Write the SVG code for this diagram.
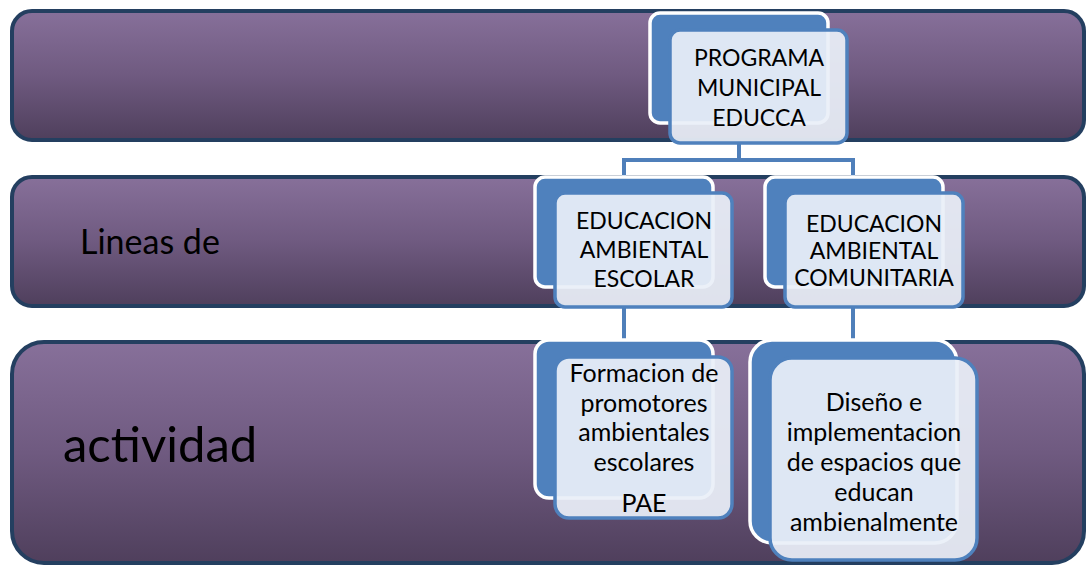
<svg xmlns="http://www.w3.org/2000/svg" width="1086" height="566" viewBox="0 0 1086 566">
<defs>
<linearGradient id="bandGrad" x1="0" y1="0" x2="0" y2="1">
<stop offset="0" stop-color="#87709a"/>
<stop offset="0.5" stop-color="#6f5a80"/>
<stop offset="1" stop-color="#4f3f5c"/>
</linearGradient>
</defs>
<style>
.band{fill:url(#bandGrad);stroke:#243f60;stroke-width:4}
.back{fill:#4f81bd;stroke:#ffffff;stroke-width:3.5}
.front{fill:#eaeff7;fill-opacity:0.93;stroke:#4f81bd;stroke-width:3.5}
.conn{fill:none;stroke:#4f7fba;stroke-width:4}
.t{font-family:Lato,"Liberation Sans",sans-serif;font-size:23px;fill:#000;text-anchor:middle}
.lc{font-size:25px}
.lbl{font-family:Lato,"Liberation Sans",sans-serif;fill:#000}
</style>
<g id="bands">
<rect class="band" x="12" y="11" width="1072" height="129" rx="20"/>
<rect class="band" x="12" y="177" width="1072" height="129" rx="20"/>
<rect class="band" x="12" y="342" width="1072" height="221" rx="32"/>
<text class="lbl" x="80" y="254" font-size="34">Lineas de</text>
<text class="lbl" x="63" y="462" font-size="49">actividad</text>
</g>
<g id="connectors">
<path class="conn" d="M739,143 V160 M624,160 H853 M624,158 V177 M853,158 V177"/>
<path class="conn" d="M624,307 V342"/>
<path class="conn" d="M853,307 V342"/>
</g>
<g id="node-programa">
<rect class="back" x="650" y="13" width="178" height="110" rx="10"/>
<rect class="front" x="670" y="30" width="177" height="113" rx="10"/>
<text class="t" x="759" y="66">PROGRAMA</text>
<text class="t" x="759" y="96">MUNICIPAL</text>
<text class="t" x="759" y="126">EDUCCA</text>
</g>
<g id="node-escolar">
<rect class="back" x="535" y="177" width="178" height="110" rx="10"/>
<rect class="front" x="555" y="193" width="177" height="114" rx="10"/>
<text class="t" x="644" y="229">EDUCACION</text>
<text class="t" x="644" y="258">AMBIENTAL</text>
<text class="t" x="644" y="287">ESCOLAR</text>
</g>
<g id="node-comunitaria">
<rect class="back" x="765" y="177" width="178" height="110" rx="10"/>
<rect class="front" x="785" y="193" width="178" height="114" rx="10"/>
<text class="t" x="874" y="232">EDUCACION</text>
<text class="t" x="874" y="259">AMBIENTAL</text>
<text class="t" x="874" y="286">COMUNITARIA</text>
</g>
<g id="node-formacion">
<rect class="back" x="535" y="340" width="178" height="158" rx="14"/>
<rect class="front" x="555" y="357" width="177" height="161" rx="14"/>
<text class="t lc" x="644" y="382">Formacion de</text>
<text class="t lc" x="644" y="412">promotores</text>
<text class="t lc" x="644" y="441">ambientales</text>
<text class="t lc" x="644" y="471">escolares</text>
<text class="t lc" x="644" y="512">PAE</text>
</g>
<g id="node-diseno">
<rect class="back" x="750" y="340" width="207" height="203" rx="22"/>
<rect class="front" x="770" y="358" width="207" height="202" rx="22"/>
<text class="t lc" x="874" y="411">Diseño e</text>
<text class="t lc" x="874" y="441">implementacion</text>
<text class="t lc" x="874" y="471">de espacios que</text>
<text class="t lc" x="874" y="501">educan</text>
<text class="t lc" x="874" y="531">ambienalmente</text>
</g>
</svg>
